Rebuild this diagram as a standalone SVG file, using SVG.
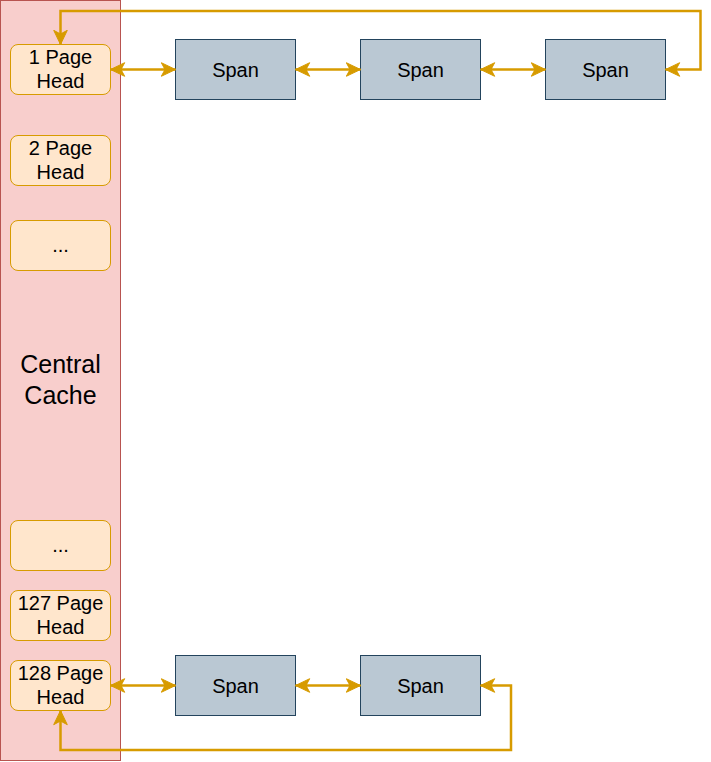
<svg xmlns="http://www.w3.org/2000/svg" width="711" height="762" viewBox="0 0 711 762">
<style>
.panel{fill:#f8cecc;stroke:#b85450;stroke-width:1}
.head{fill:#ffe6cc;stroke:#d79b00;stroke-width:1}
.span{fill:#bac8d3;stroke:#23445d;stroke-width:1}
.t{font-family:"Liberation Sans",Arial,sans-serif;fill:#000;text-anchor:middle}
.t20{font-size:20px}
.t25{font-size:25px}
.edge{fill:none;stroke:#d79b00;stroke-width:2.5;marker-start:url(#arr);marker-end:url(#arr)}
</style>
<defs>
<marker id="arr" markerUnits="userSpaceOnUse" markerWidth="16" markerHeight="16" viewBox="0 0 16 16" refX="15" refY="8" orient="auto-start-reverse">
<path d="M15,8 L0.8,1.2 L4.5,8 L0.8,14.8 Z" fill="#d79b00" stroke="#d79b00" stroke-width="1"/>
</marker>
</defs>
<g id="central-cache">
<rect class="panel" x="0.5" y="0.5" width="120" height="760"/>
<text class="t t25" x="60.5" y="373">Central</text>
<text class="t t25" x="60.5" y="404">Cache</text>
</g>
<g id="head-1">
<rect class="head" x="10.5" y="44.5" width="100" height="50" rx="7.5"/>
<text class="t t20" x="60.5" y="63.5">1 Page</text>
<text class="t t20" x="60.5" y="87.5">Head</text>
</g>
<g id="head-2">
<rect class="head" x="10.5" y="135.5" width="100" height="50" rx="7.5"/>
<text class="t t20" x="60.5" y="154.5">2 Page</text>
<text class="t t20" x="60.5" y="178.5">Head</text>
</g>
<g id="head-dots-1">
<rect class="head" x="10.5" y="220.5" width="100" height="50" rx="7.5"/>
<text class="t t20" x="60.5" y="252">...</text>
</g>
<g id="head-dots-2">
<rect class="head" x="10.5" y="520.5" width="100" height="50" rx="7.5"/>
<text class="t t20" x="60.5" y="552">...</text>
</g>
<g id="head-127">
<rect class="head" x="10.5" y="590.5" width="100" height="50" rx="7.5"/>
<text class="t t20" x="60.5" y="609.5">127 Page</text>
<text class="t t20" x="60.5" y="633.5">Head</text>
</g>
<g id="head-128">
<rect class="head" x="10.5" y="660.5" width="100" height="50" rx="7.5"/>
<text class="t t20" x="60.5" y="679.5">128 Page</text>
<text class="t t20" x="60.5" y="703.5">Head</text>
</g>
<g id="span-1-1">
<rect class="span" x="175.5" y="39.5" width="120" height="60"/>
<text class="t t20" x="235.5" y="77">Span</text>
</g>
<g id="span-1-2">
<rect class="span" x="360.5" y="39.5" width="120" height="60"/>
<text class="t t20" x="420.5" y="77">Span</text>
</g>
<g id="span-1-3">
<rect class="span" x="545.5" y="39.5" width="120" height="60"/>
<text class="t t20" x="605.5" y="77">Span</text>
</g>
<g id="span-128-1">
<rect class="span" x="175.5" y="655.5" width="120" height="60"/>
<text class="t t20" x="235.5" y="693">Span</text>
</g>
<g id="span-128-2">
<rect class="span" x="360.5" y="655.5" width="120" height="60"/>
<text class="t t20" x="420.5" y="693">Span</text>
</g>
<g id="connectors">
<path class="edge" d="M110.5,69.5 L175.5,69.5"/>
<path class="edge" d="M295.5,69.5 L360.5,69.5"/>
<path class="edge" d="M480.5,69.5 L545.5,69.5"/>
<path class="edge" d="M60.5,44.5 L60.5,11 L700.5,11 L700.5,69.5 L665.5,69.5"/>
<path class="edge" d="M110.5,685.5 L175.5,685.5"/>
<path class="edge" d="M295.5,685.5 L360.5,685.5"/>
<path class="edge" d="M60.5,710.5 L60.5,750 L511,750 L511,685.5 L480.5,685.5"/>
</g>
</svg>
